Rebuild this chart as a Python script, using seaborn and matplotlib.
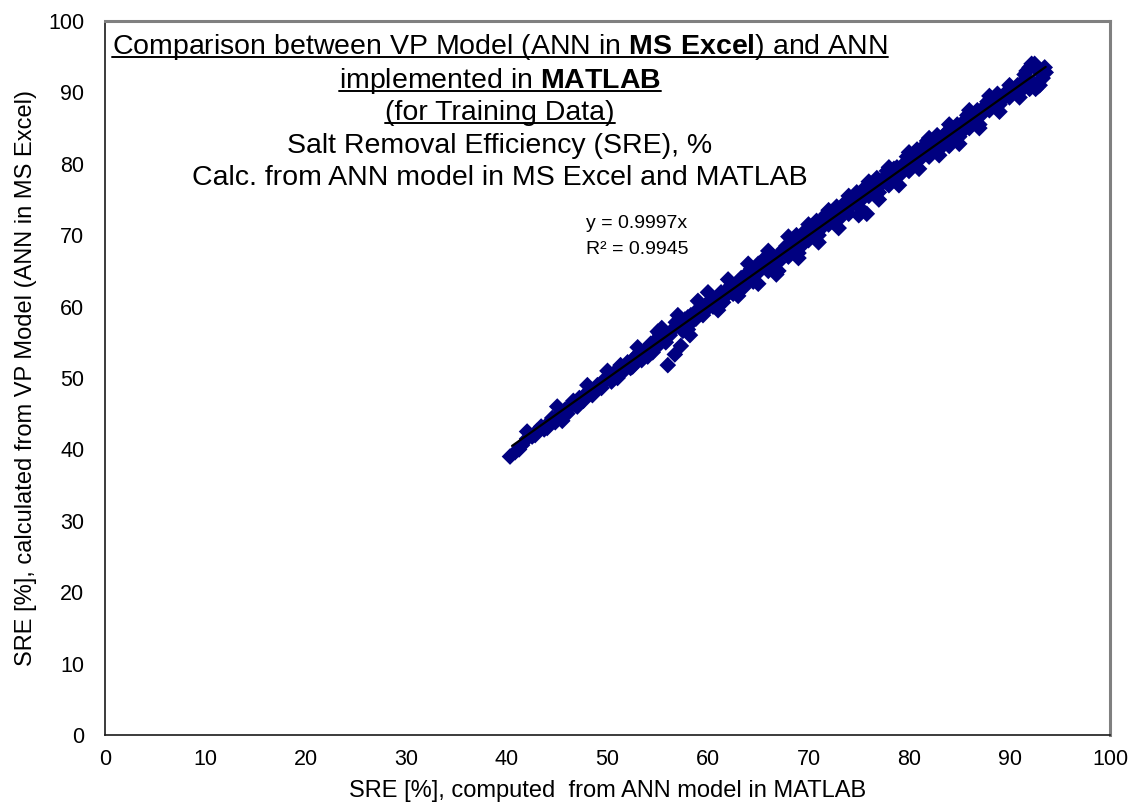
import matplotlib
matplotlib.use('Agg')
import matplotlib.pyplot as plt
import seaborn as sns
import pandas as pd
from matplotlib.lines import Line2D

# Valores (SRE %, MATLAB vs MS Excel)
sre_matlab = [40.3, 40.8, 41.5, 42.0, 42.5, 43.0, 43.4, 44.0, 44.5, 45.0,
              45.5, 45.8, 46.3, 46.8, 47.2, 47.6, 48.0, 48.5, 49.0, 49.4,
              50.0, 50.4, 51.0, 51.5, 52.0, 52.5, 53.0, 53.4, 54.0, 54.5,
              55.0, 55.4, 55.8, 56.0, 56.7, 57.3, 58.2, 56.5, 57.0, 57.5,
              58.0, 58.5, 59.0, 59.5, 60.0, 60.5, 61.0, 61.5, 62.0, 62.5,
              63.0, 63.5, 64.0, 64.5, 65.0, 65.5, 66.0, 66.5, 66.8, 67.0,
              67.5, 68.0, 68.5, 69.0, 69.5, 70.0, 70.5, 71.0, 71.5, 72.0,
              72.5, 73.0, 73.5, 74.0, 74.5, 75.0, 75.5, 75.8, 76.0, 76.5,
              77.0, 77.5, 78.0, 78.5, 79.0, 79.5, 80.0, 80.5, 81.0, 81.5,
              82.0, 82.5, 83.0, 83.5, 84.0, 84.5, 85.0, 85.5, 86.0, 86.5,
              87.0, 87.5, 88.0, 88.5, 89.0, 89.5, 90.0, 90.5, 91.0, 91.5,
              92.0, 92.5, 93.0, 93.5, 93.0, 92.4, 93.3, 91.8, 92.8,
              41.2, 42.8, 43.7, 44.8, 46.0, 46.6, 47.8, 48.8, 49.7, 50.7,
              51.3, 52.3, 52.8, 53.7, 54.3, 54.8, 55.2, 56.2, 56.8, 57.7,
              58.3, 58.8, 59.3, 59.8, 60.3, 60.8, 61.3, 61.8, 62.3, 62.8,
              63.3, 63.8, 64.3, 64.8, 65.3, 65.8, 66.3, 67.3, 67.8, 68.3,
              68.8, 69.3, 69.8, 70.3, 70.8, 71.3, 71.8, 72.3, 72.8, 73.3,
              73.8, 74.3, 74.8, 75.3, 76.3, 76.8, 77.3, 77.8, 78.3, 78.8,
              79.3, 79.8, 80.3, 80.8, 81.3, 81.8, 82.3, 82.8, 83.3, 83.8,
              84.3, 84.8, 85.3, 85.8, 86.3, 86.8, 87.3, 87.8, 88.3, 88.8,
              89.3, 89.8, 90.3, 90.8, 91.3, 91.7, 92.2, 92.7, 93.6, 92.6,
              60.0, 61.0, 62.0, 63.0, 64.0, 65.0, 66.0, 67.0, 68.0, 69.0,
              70.0, 71.0, 72.0, 73.0, 74.0, 75.0, 76.0, 77.0, 78.0, 79.0,
              80.0, 81.0, 82.0, 83.0, 84.0, 85.0, 86.0, 87.0, 88.0, 89.0,
              90.0, 91.0, 92.0, 57.0, 58.0, 59.0, 53.0, 54.0, 55.0, 50.0,
              51.0, 48.0, 47.0, 45.0, 44.0, 42.0]
sre_excel = [39.0, 39.6, 40.6, 41.5, 41.8, 42.6, 43.2, 43.5, 44.4, 44.6,
             44.0, 45.6, 46.0, 46.2, 47.2, 46.8, 48.0, 47.6, 49.0, 48.6,
             50.0, 49.5, 51.2, 50.8, 52.2, 51.6, 53.3, 52.5, 54.2, 53.6,
             55.6, 57.0, 55.0, 51.8, 53.3, 54.5, 56.0, 56.8, 57.5, 56.6,
             58.5, 58.0, 59.6, 58.8, 60.5, 60.0, 61.4, 60.6, 62.5, 61.8,
             63.5, 62.6, 64.8, 63.5, 66.0, 66.5, 65.0, 67.0, 64.5, 66.2,
             68.0, 67.0, 69.3, 67.5, 70.0, 69.3, 71.3, 70.0, 72.5, 71.5,
             73.0, 72.2, 74.0, 73.0, 75.3, 74.0, 76.5, 73.0, 75.5, 77.0,
             76.0, 78.0, 77.0, 79.3, 78.3, 80.0, 79.0, 81.5, 80.5, 82.5,
             81.0, 83.0, 82.0, 84.0, 82.5, 85.0, 83.8, 86.0, 85.0, 87.0,
             85.5, 88.0, 87.5, 89.0, 88.3, 89.5, 89.3, 90.5, 90.0, 92.5,
             93.5, 94.0, 93.0, 93.5, 91.0, 91.3, 92.0, 91.5, 90.8,
             40.0, 42.0, 42.8, 43.8, 45.0, 46.8, 47.5, 48.2, 49.8, 50.2,
             51.8, 51.4, 53.0, 53.8, 54.8, 54.2, 56.2, 56.0, 57.8, 58.2,
             58.8, 58.3, 60.0, 59.5, 61.0, 60.2, 62.0, 61.5, 63.0, 62.3,
             64.0, 63.2, 65.3, 64.5, 65.5, 67.0, 66.0, 67.5, 68.5, 67.8,
             70.0, 68.5, 70.8, 70.5, 72.0, 71.0, 73.0, 72.3, 74.0, 73.0,
             74.8, 74.2, 76.0, 75.0, 76.0, 78.0, 77.2, 79.0, 78.0, 79.5,
             79.3, 81.0, 80.0, 82.0, 81.5, 83.2, 82.0, 84.0, 83.0, 84.5,
             83.5, 85.5, 84.5, 86.8, 86.0, 87.5, 87.0, 88.7, 88.0, 89.8,
             89.0, 90.2, 90.0, 91.0, 91.5, 93.0, 94.0, 93.2, 92.8, 90.5,
             62.0, 59.5, 63.8, 61.5, 66.0, 63.2, 67.8, 65.0, 69.8, 66.8,
             71.5, 69.0, 73.5, 71.0, 75.5, 72.8, 77.5, 75.0, 79.5, 77.0,
             81.6, 79.3, 83.6, 81.2, 85.5, 82.8, 87.5, 85.0, 89.5, 87.3,
             91.0, 89.3, 90.5, 58.8, 56.8, 60.8, 54.3, 53.0, 56.5, 51.0,
             50.0, 49.0, 46.0, 46.0, 43.0, 42.5]

# Linea de tendencia (y = 0.9997x)
pendiente = 0.9997
tendencia_x = [40.5, 93.6]
tendencia_y = [pendiente * v for v in tendencia_x]

ticks = list(range(0, 101, 10))

df = pd.DataFrame({'matlab': sre_matlab, 'excel': sre_excel})
df_tend = pd.DataFrame({'x': tendencia_x, 'y': tendencia_y})

sns.set_style('white')
plt.rcParams['font.family'] = ['Liberation Sans', 'DejaVu Sans']
plt.rcParams['mathtext.fontset'] = 'custom'
plt.rcParams['mathtext.rm'] = 'Liberation Sans'
plt.rcParams['mathtext.bf'] = 'Liberation Sans:bold'
plt.rcParams['text.color'] = 'black'
plt.rcParams['axes.labelcolor'] = 'black'
plt.rcParams['xtick.color'] = 'black'
plt.rcParams['ytick.color'] = 'black'

fig = plt.figure(figsize=(11.41, 8.11), dpi=100)
ax = fig.add_axes([105 / 1141, 1 - 735 / 811, 1005 / 1141, 714 / 811])

sns.scatterplot(data=df, x='matlab', y='excel', marker='D', s=72,
                color='#000080', edgecolor='none', linewidth=0, ax=ax, zorder=3)
sns.lineplot(data=df_tend, x='x', y='y', color='black', linewidth=1.6,
             ax=ax, zorder=4)

ax.set_xlim(0, 100)
ax.set_ylim(0, 100)
ax.set_xticks(ticks)
ax.set_yticks(ticks)
ax.tick_params(direction='out', length=5, width=1, labelsize=15.5)
ax.tick_params(axis='y', pad=10)
ax.tick_params(axis='x', pad=5)
ax.set_xlabel('SRE [%], computed  from ANN model in MATLAB', fontsize=17, labelpad=7)
ax.set_ylabel('SRE [%], calculated from VP Model (ANN in MS Excel)', fontsize=17, labelpad=8)

for lado in ['top', 'right']:
    ax.spines[lado].set_color('#808080')
    ax.spines[lado].set_linewidth(2.2)
for lado in ['left', 'bottom']:
    ax.spines[lado].set_color('#1a1a1a')
    ax.spines[lado].set_linewidth(1.2)

# Titulo dentro del area del grafico
cx = (500 - 105) / 1005
lineas = [
    (r'Comparison between VP Model (ANN in $\mathbf{MS\ Excel}$) and ANN', 54, True),
    (r'implemented in $\mathbf{MATLAB}$', 88, True),
    ('(for Training Data)', 120, True),
    ('Salt Removal Efficiency (SRE), %', 153, False),
    ('Calc. from ANN model in MS Excel and MATLAB', 185, False),
]
textos = []
for txt, yb, subr in lineas:
    t = ax.text(cx, (735 - yb) / 714, txt, transform=ax.transAxes,
                ha='center', va='baseline', fontsize=20.5)
    textos.append((t, yb, subr))

ax.text(47.9, 71.0, 'y = 0.9997x', fontsize=14, va='baseline')
ax.text(47.9, 67.4, 'R² = 0.9945', fontsize=14, va='baseline')

# Subrayado manual
fig.canvas.draw()
for t, yb, subr in textos:
    if not subr:
        continue
    bb = t.get_window_extent()
    yl = 811 - yb - 3
    fig.add_artist(Line2D([bb.x0 / 1141, bb.x1 / 1141], [yl / 811, yl / 811],
                          transform=fig.transFigure, color='black', linewidth=1.4))

fig.savefig('out.png', dpi=100)
